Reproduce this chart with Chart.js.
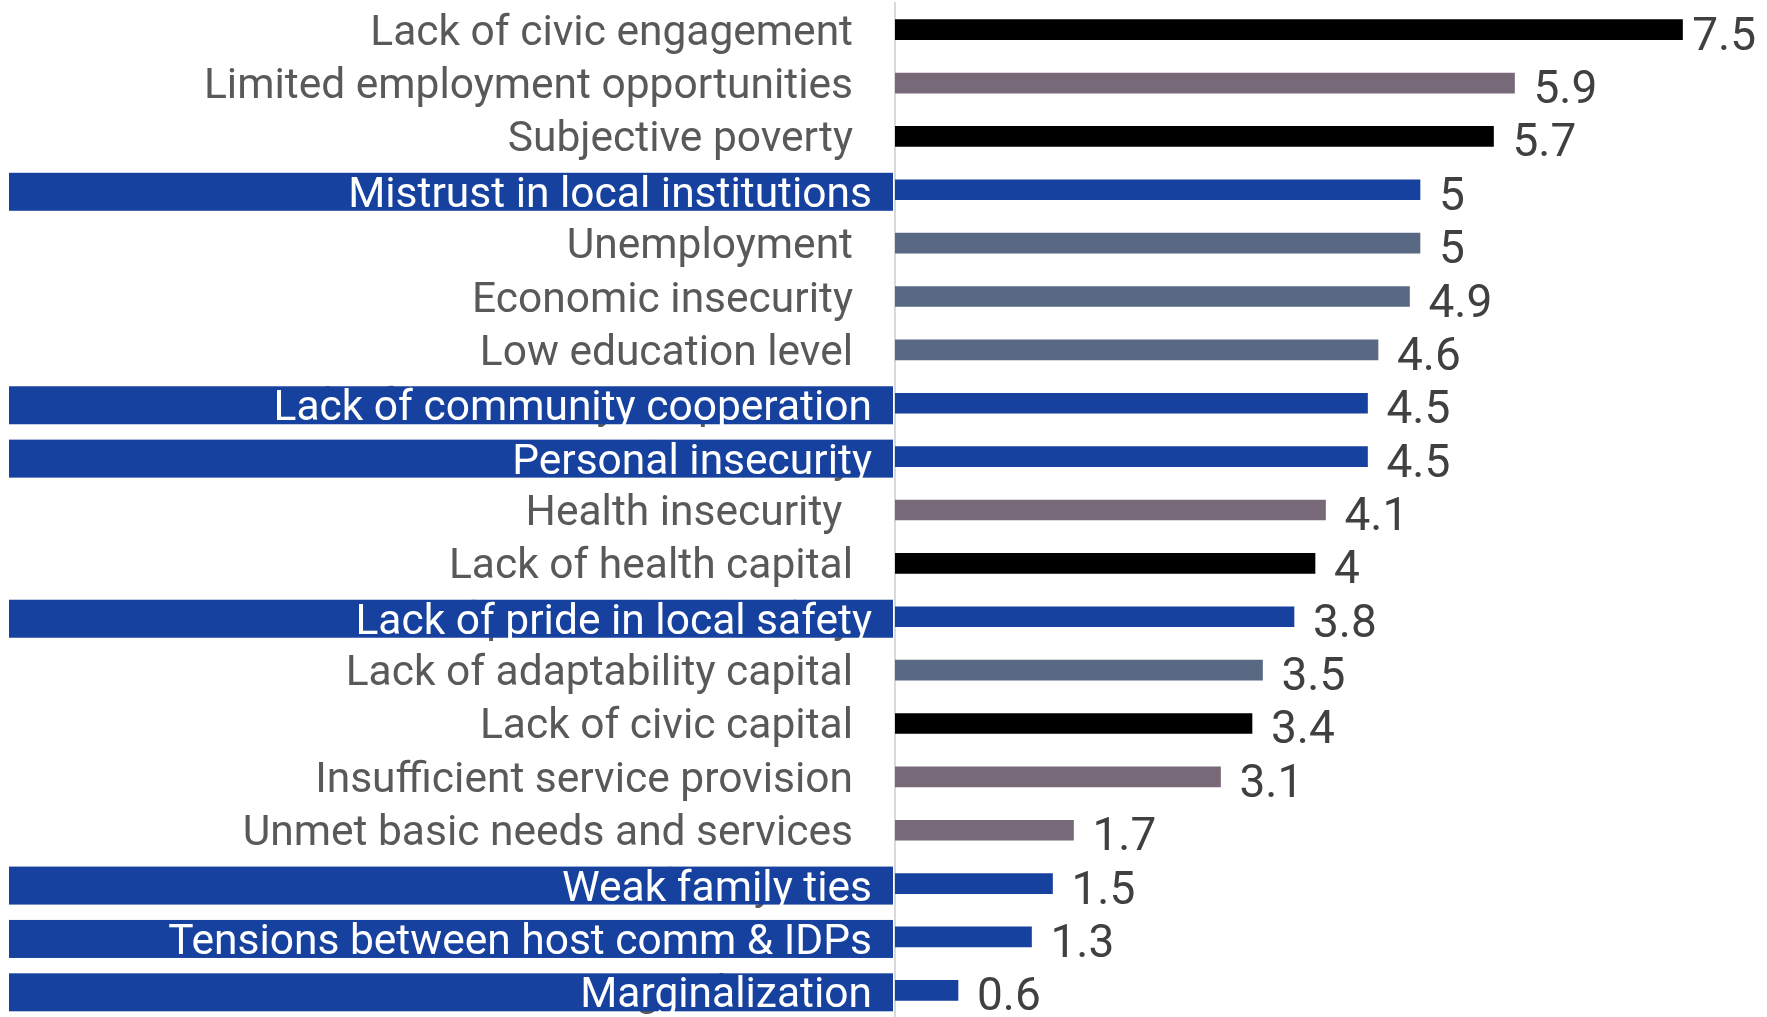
<!DOCTYPE html>
<html>
<head>
<meta charset="utf-8">
<title>Drivers</title>
<script src="https://cdn.jsdelivr.net/npm/chart.js@4.4.0/dist/chart.umd.min.js"></script>
<style>
  body { margin: 0; background: #ffffff; }
  #chart { display: block; }
</style>
</head>
<body>
<canvas id="chart" width="1767" height="1017"></canvas>
<script>
// rows, top to bottom
const categories = [
    'Lack of civic engagement',
    'Limited employment opportunities',
    'Subjective poverty',
    'Mistrust in local institutions',
    'Unemployment',
    'Economic insecurity',
    'Low education level',
    'Lack of community cooperation',
    'Personal insecurity',
    'Health insecurity ',
    'Lack of health capital',
    'Lack of pride in local safety',
    'Lack of adaptability capital',
    'Lack of civic capital',
    'Insufficient service provision',
    'Unmet basic needs and services',
    'Weak family ties',
    'Tensions between host comm & IDPs',
    'Marginalization'
];
const values = [7.5, 5.9, 5.7, 5, 5, 4.9, 4.6, 4.5, 4.5, 4.1, 4, 3.8, 3.5, 3.4, 3.1, 1.7, 1.5, 1.3, 0.6];
const groups = ['A', 'B', 'A', 'D', 'C', 'C', 'C', 'D', 'D', 'B', 'A', 'D', 'C', 'A', 'B', 'B', 'D', 'D', 'D'];
const xTicks = [0, 8];

const colours = {
    A: '#000000',
    B: '#786979',
    C: '#596983',
    D: '#17419e'
};

const rowLabels = {
    id: 'rowLabels',
    afterDatasetsDraw(chart) {
        const ctx = chart.ctx;
        const y = chart.scales.y;
        const bars = chart.getDatasetMeta(0).data;
        ctx.save();
        ctx.font = '42.5px Roboto';
        ctx.textAlign = 'right';
        ctx.textBaseline = 'alphabetic';
        categories.forEach((name, i) => {
            const cy = y.getPixelForValue(i);
            ctx.fillStyle = '#595959';
            ctx.fillText(name, y.right - 42, cy + 15);
            if (groups[i] === 'D') {
                // highlighted rows get a filled band with white text
                ctx.fillStyle = colours.D;
                ctx.fillRect(9, cy - 17, y.right - 11, 38);
                ctx.fillStyle = '#ffffff';
                ctx.fillText(name, y.right - 23, cy + 17);
            }
        });

        // value labels, kept inside the canvas
        ctx.textAlign = 'left';
        ctx.font = '46px Roboto';
        ctx.fillStyle = '#404040';
        bars.forEach((bar, i) => {
            const txt = String(values[i]);
            const w = ctx.measureText(txt).width;
            const x = Math.min(bar.x + 19, chart.width - 11 - w);
            ctx.fillText(txt, x, bar.y + 20);
        });
        ctx.restore();
    }
};

new Chart(document.getElementById('chart'), {
    type: 'bar',
    data: {
        labels: categories,
        datasets: [{
            data: values,
            backgroundColor: groups.map(g => colours[g]),
            barThickness: 20,
            borderWidth: 0
        }]
    },
    options: {
        indexAxis: 'y',
        responsive: false,
        animation: false,
        devicePixelRatio: 1,
        layout: { padding: { top: 3, right: 32, bottom: 0, left: 0 } },
        plugins: {
            legend: { display: false },
            tooltip: { enabled: false }
        },
        scales: {
            x: {
                display: false,
                min: xTicks[0],
                max: xTicks[1]
            },
            y: {
                afterFit(scale) { scale.width = 895; },
                ticks: { display: false },
                grid: { display: false },
                border: { display: true, color: '#d9d9d9', width: 2 }
            }
        }
    },
    plugins: [rowLabels]
});
</script>
</body>
</html>
